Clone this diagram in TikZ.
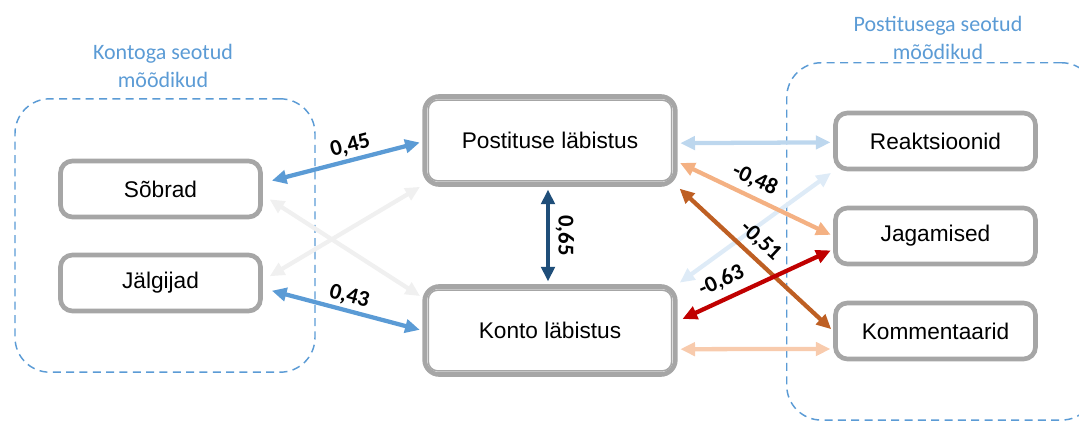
\documentclass[tikz,border=0pt]{standalone}
\usepackage{fontspec}
\setmainfont{Liberation Sans}
\newfontfamily\calib{Carlito}
\usetikzlibrary{arrows.meta}

\definecolor{grpblue}{RGB}{91,155,213}
\definecolor{boxgray}{RGB}{166,166,166}
\definecolor{navyblue}{RGB}{31,78,121}
\definecolor{paleblue}{RGB}{189,215,238}
\definecolor{faintblue}{RGB}{222,235,247}
\definecolor{faintgray}{RGB}{240,240,240}
\definecolor{peach}{RGB}{244,177,131}
\definecolor{palepeach}{RGB}{248,203,173}
\definecolor{rust}{RGB}{190,95,35}
\definecolor{darkred}{RGB}{192,0,0}

\begin{document}
\begin{tikzpicture}[x=0.75pt,y=-0.75pt]
        \tikzstyle{metric}=[draw=boxgray,line width=3.5pt,rounded corners=9pt,fill=white,
            minimum width=150pt,minimum height=42pt,font=\fontsize{17}{19}\selectfont]
        \tikzstyle{main metric}=[metric,minimum width=188pt,minimum height=66pt,rounded corners=11pt]
        \tikzstyle{group}=[draw=grpblue,line width=1.1pt,dash pattern=on 6pt off 4pt,rounded corners=26pt]
        \tikzstyle{group title}=[text=grpblue,align=center,font=\calib\fontsize{16.5}{21}\selectfont]
        \tikzstyle{link}=[line width=3.2pt,{Triangle[length=11pt,width=10pt]}-{Triangle[length=11pt,width=10pt]}]
        \tikzstyle{coef}=[text=black,font=\calib\bfseries\fontsize{17}{17}\selectfont,inner sep=1pt]

        \useasboundingbox (0,0) rectangle (1079,421);

        % Groups of metrics (dashed frames)
        \node(kontogrp)[group,minimum width=225pt,minimum height=205pt] at (165,235.5){};
        \node(postgrp)[group,minimum width=232pt,minimum height=268pt,anchor=north west] at (786,62){};
        \node(kontotitle)[group title] at (163,66){Kontoga seotud\\mõõdikud};
        \node(posttitle)[group title] at (938,38){Postitusega seotud\\mõõdikud};

        % Metrics
        \node(sobrad)[metric] at (160.5,189){Sõbrad};
        \node(jalgijad)[metric] at (160.5,283){Jälgijad};
        \node(reakts)[metric] at (935.5,141){Reaktsioonid};
        \node(jagam)[metric] at (935.5,236){Jagamised};
        \node(komment)[metric] at (935.5,331){Kommentaarid};
        \node(postitus)[main metric] at (550,140.5){Postituse läbistus};
        \node(konto)[main metric] at (550,330.5){Konto läbistus};

        % inner lines of the double frames
        \foreach \n in {postitus,konto}{
            \draw[boxgray,line width=1.1pt,rounded corners=7pt]
                ([shift={(4.5pt,-4.5pt)}]\n.north west) rectangle ([shift={(-4.5pt,4.5pt)}]\n.south east);
        }

        % Weak correlations
        \draw[link,faintgray,shorten <=6pt,shorten >=2pt] ([yshift=-4.5pt]sobrad.east) -- ([yshift=-10pt]konto.north west);
        \draw[link,faintgray,shorten <=6pt,shorten >=2pt] ([yshift=2pt]jalgijad.east) -- ([yshift=1pt]postitus.south west);
        \draw[link,faintblue,shorten <=2pt,shorten >=2pt] (reakts.south west) -- (konto.north east);
        \draw[link,paleblue,shorten <=2pt,shorten >=2pt] ([yshift=-2pt]postitus.east) -- ([yshift=-1pt]reakts.west);
        \draw[link,palepeach,shorten <=2pt,shorten >=2pt] ([yshift=-14pt]konto.east) -- ([yshift=-13.5pt]komment.west);

        % Correlations with values
        \draw[link,grpblue,shorten <=7pt,shorten >=2pt] ([yshift=4.5pt]sobrad.east) -- ([yshift=-1pt]postitus.west)
            node[coef,pos=0.57,above=1pt,sloped]{0,45};
        \draw[link,grpblue,shorten <=7pt,shorten >=2pt] ([yshift=-4pt]jalgijad.east) -- (konto.west)
            node[coef,pos=0.52,above=1pt,sloped]{0,43};
        \draw[link,navyblue,shorten <=2pt,shorten >=2pt] ([xshift=-1.5pt]postitus.south) -- ([xshift=-1.5pt]konto.north)
            node[coef,midway,above=3pt,sloped]{0,65};
        \draw[link,peach,shorten <=2pt,shorten >=2pt] ([yshift=-16pt]postitus.east) -- (jagam.west)
            node[coef,pos=0.45,above=3pt,sloped]{-0,48};
        \draw[link,rust,shorten <=2pt,shorten >=2pt] (postitus.south east) -- (komment.west)
            node[coef,pos=0.46,above=3pt,sloped]{-0,51};
        \draw[link,darkred,shorten <=4pt,shorten >=2pt] ([yshift=7pt]konto.east) -- ([yshift=-10pt]jagam.west)
            node[coef,pos=0.33,above=4pt,sloped]{-0,63};
    \end{tikzpicture}
\end{document}
